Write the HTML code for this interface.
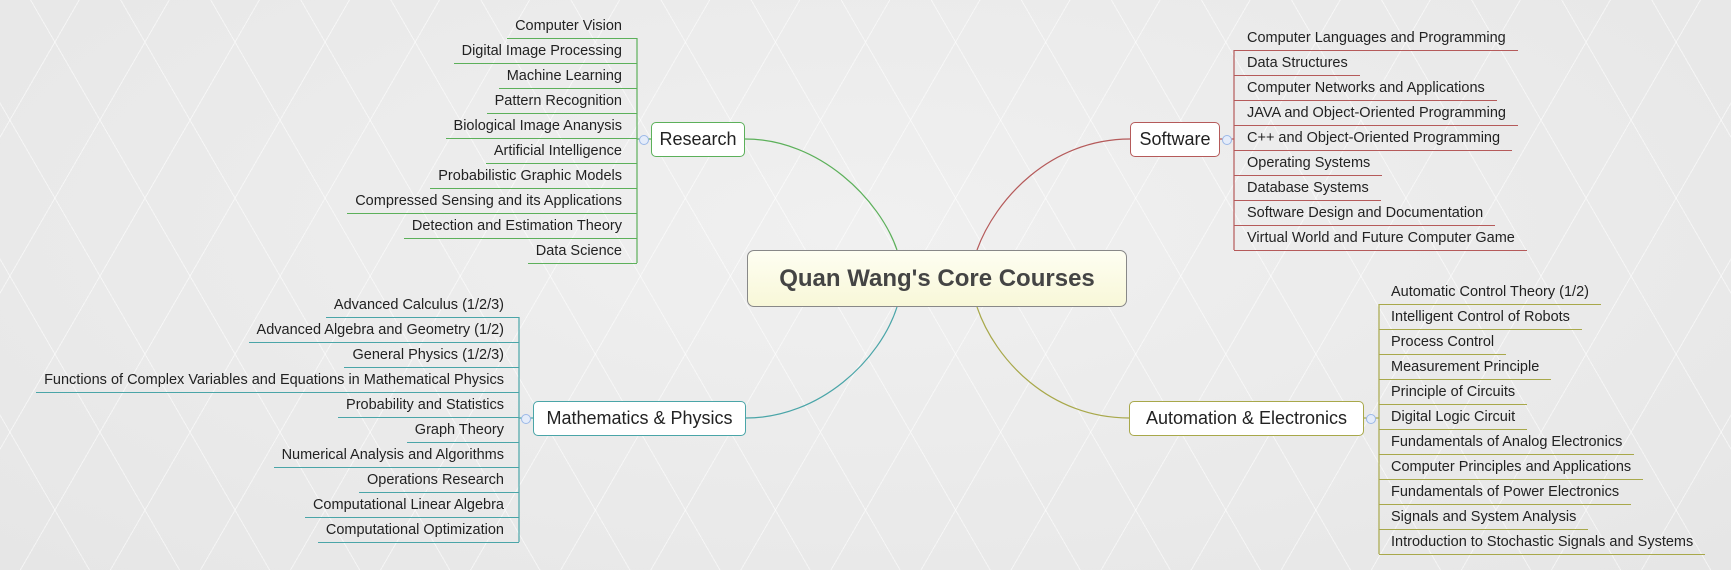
<!DOCTYPE html>
<html><head><meta charset="utf-8"><style>
html,body{margin:0;padding:0}
body{width:1731px;height:570px;position:relative;overflow:hidden;background:#ebebeb;font-family:"Liberation Sans",sans-serif;color:#222}
.bg{position:absolute;left:0;top:0;width:1731px;height:570px;background:
repeating-linear-gradient(60deg,transparent 0 77px,rgba(255,255,255,.55) 77px 78px),
repeating-linear-gradient(-60deg,transparent 0 77px,rgba(255,255,255,.55) 77px 78px),
radial-gradient(ellipse at 50% 40%,#f0f0f0,#e6e6e6)}
svg{position:absolute;left:0;top:0}
.i{position:absolute;height:24px;line-height:24px;font-size:14.5px;white-space:nowrap}
.l{text-align:right;padding-left:8px}
.r{padding-right:12px}
.box{position:absolute;background:#fff;border:1px solid;border-radius:5px;font-size:18px;text-align:center;box-sizing:border-box;line-height:32px;white-space:nowrap}
.c{position:absolute;left:747px;top:250px;width:380px;height:57px;box-sizing:border-box;border:1px solid #888;border-radius:7px;background:linear-gradient(#fefef2,#f8f7d8);font-weight:bold;font-size:24px;line-height:55px;text-align:center;color:#444}
.dot{position:absolute;width:8px;height:8px;border:1px solid #9bb8e8;border-radius:50%;background:#e4ecfa}
</style></head><body>
<div class="bg"></div>
<svg width="1731" height="570" fill="none" stroke-width="1.2">
<path d="M745,139 C820,139 880,200 897,250" stroke="#5cb05a"/>
<path d="M1130,139 C1050,139 995,200 977,250" stroke="#b55a5a"/>
<path d="M746,418 C820,418 880,360 897,307" stroke="#4aa5a8"/>
<path d="M1129,418 C1050,418 995,360 977,307" stroke="#a8a84a"/>
<path d="M637,38 V263" stroke="#5cb05a"/>
<path d="M519,317 V542" stroke="#4aa5a8"/>
<path d="M1234,50 V250" stroke="#b55a5a"/>
<path d="M1379,304 V554" stroke="#a8a84a"/>
<path d="M637,139 H651" stroke="#5cb05a"/>
<path d="M519,418 H533" stroke="#4aa5a8"/>
<path d="M1220,139 H1234" stroke="#b55a5a"/>
<path d="M1364,418 H1379" stroke="#a8a84a"/>
</svg>
<div class="c">Quan Wang's Core Courses</div>
<div class="box" style="left:651px;top:122px;width:94px;height:35px;border-color:#5cb05a">Research</div>
<div class="box" style="left:533px;top:401px;width:213px;height:35px;border-color:#4aa5a8">Mathematics &amp; Physics</div>
<div class="box" style="left:1130px;top:122px;width:90px;height:35px;border-color:#b55a5a">Software</div>
<div class="box" style="left:1129px;top:401px;width:235px;height:35px;border-color:#a8a84a">Automation &amp; Electronics</div>
<div class="dot" style="left:639px;top:135px"></div>
<div class="dot" style="left:521px;top:414px"></div>
<div class="dot" style="left:1222px;top:135px"></div>
<div class="dot" style="left:1366px;top:414px"></div>

<div style="position:absolute;right:1094px;top:0">
<div class="i l" style="right:0;top:14px;border-bottom:1px solid #5cb05a;padding-right:15px">Computer Vision</div>
<div class="i l" style="right:0;top:39px;border-bottom:1px solid #5cb05a;padding-right:15px">Digital Image Processing</div>
<div class="i l" style="right:0;top:64px;border-bottom:1px solid #5cb05a;padding-right:15px">Machine Learning</div>
<div class="i l" style="right:0;top:89px;border-bottom:1px solid #5cb05a;padding-right:15px">Pattern Recognition</div>
<div class="i l" style="right:0;top:114px;border-bottom:1px solid #5cb05a;padding-right:15px">Biological Image Ananysis</div>
<div class="i l" style="right:0;top:139px;border-bottom:1px solid #5cb05a;padding-right:15px">Artificial Intelligence</div>
<div class="i l" style="right:0;top:164px;border-bottom:1px solid #5cb05a;padding-right:15px">Probabilistic Graphic Models</div>
<div class="i l" style="right:0;top:189px;border-bottom:1px solid #5cb05a;padding-right:15px">Compressed Sensing and its Applications</div>
<div class="i l" style="right:0;top:214px;border-bottom:1px solid #5cb05a;padding-right:15px">Detection and Estimation Theory</div>
<div class="i l" style="right:0;top:239px;border-bottom:1px solid #5cb05a;padding-right:15px">Data Science</div>
</div>

<div style="position:absolute;right:1212px;top:0">
<div class="i l" style="right:0;top:293px;border-bottom:1px solid #4aa5a8;padding-right:15px">Advanced Calculus (1/2/3)</div>
<div class="i l" style="right:0;top:318px;border-bottom:1px solid #4aa5a8;padding-right:15px">Advanced Algebra and Geometry (1/2)</div>
<div class="i l" style="right:0;top:343px;border-bottom:1px solid #4aa5a8;padding-right:15px">General Physics (1/2/3)</div>
<div class="i l" style="right:0;top:368px;border-bottom:1px solid #4aa5a8;padding-right:15px">Functions of Complex Variables and Equations in Mathematical Physics</div>
<div class="i l" style="right:0;top:393px;border-bottom:1px solid #4aa5a8;padding-right:15px">Probability and Statistics</div>
<div class="i l" style="right:0;top:418px;border-bottom:1px solid #4aa5a8;padding-right:15px">Graph Theory</div>
<div class="i l" style="right:0;top:443px;border-bottom:1px solid #4aa5a8;padding-right:15px">Numerical Analysis and Algorithms</div>
<div class="i l" style="right:0;top:468px;border-bottom:1px solid #4aa5a8;padding-right:15px">Operations Research</div>
<div class="i l" style="right:0;top:493px;border-bottom:1px solid #4aa5a8;padding-right:15px">Computational Linear Algebra</div>
<div class="i l" style="right:0;top:518px;border-bottom:1px solid #4aa5a8;padding-right:15px">Computational Optimization</div>
</div>

<div style="position:absolute;left:1234px;top:0">
<div class="i r" style="left:0;top:26px;border-bottom:1px solid #b55a5a;padding-left:13px">Computer Languages and Programming</div>
<div class="i r" style="left:0;top:51px;border-bottom:1px solid #b55a5a;padding-left:13px">Data Structures</div>
<div class="i r" style="left:0;top:76px;border-bottom:1px solid #b55a5a;padding-left:13px">Computer Networks and Applications</div>
<div class="i r" style="left:0;top:101px;border-bottom:1px solid #b55a5a;padding-left:13px">JAVA and Object-Oriented Programming</div>
<div class="i r" style="left:0;top:126px;border-bottom:1px solid #b55a5a;padding-left:13px">C++ and Object-Oriented Programming</div>
<div class="i r" style="left:0;top:151px;border-bottom:1px solid #b55a5a;padding-left:13px">Operating Systems</div>
<div class="i r" style="left:0;top:176px;border-bottom:1px solid #b55a5a;padding-left:13px">Database Systems</div>
<div class="i r" style="left:0;top:201px;border-bottom:1px solid #b55a5a;padding-left:13px">Software Design and Documentation</div>
<div class="i r" style="left:0;top:226px;border-bottom:1px solid #b55a5a;padding-left:13px">Virtual World and Future Computer Game</div>
</div>

<div style="position:absolute;left:1379px;top:0">
<div class="i r" style="left:0;top:280px;border-bottom:1px solid #a8a84a;padding-left:12px">Automatic Control Theory (1/2)</div>
<div class="i r" style="left:0;top:305px;border-bottom:1px solid #a8a84a;padding-left:12px">Intelligent Control of Robots</div>
<div class="i r" style="left:0;top:330px;border-bottom:1px solid #a8a84a;padding-left:12px">Process Control</div>
<div class="i r" style="left:0;top:355px;border-bottom:1px solid #a8a84a;padding-left:12px">Measurement Principle</div>
<div class="i r" style="left:0;top:380px;border-bottom:1px solid #a8a84a;padding-left:12px">Principle of Circuits</div>
<div class="i r" style="left:0;top:405px;border-bottom:1px solid #a8a84a;padding-left:12px">Digital Logic Circuit</div>
<div class="i r" style="left:0;top:430px;border-bottom:1px solid #a8a84a;padding-left:12px">Fundamentals of Analog Electronics</div>
<div class="i r" style="left:0;top:455px;border-bottom:1px solid #a8a84a;padding-left:12px">Computer Principles and Applications</div>
<div class="i r" style="left:0;top:480px;border-bottom:1px solid #a8a84a;padding-left:12px">Fundamentals of Power Electronics</div>
<div class="i r" style="left:0;top:505px;border-bottom:1px solid #a8a84a;padding-left:12px">Signals and System Analysis</div>
<div class="i r" style="left:0;top:530px;border-bottom:1px solid #a8a84a;padding-left:12px">Introduction to Stochastic Signals and Systems</div>
</div>
</body></html>
